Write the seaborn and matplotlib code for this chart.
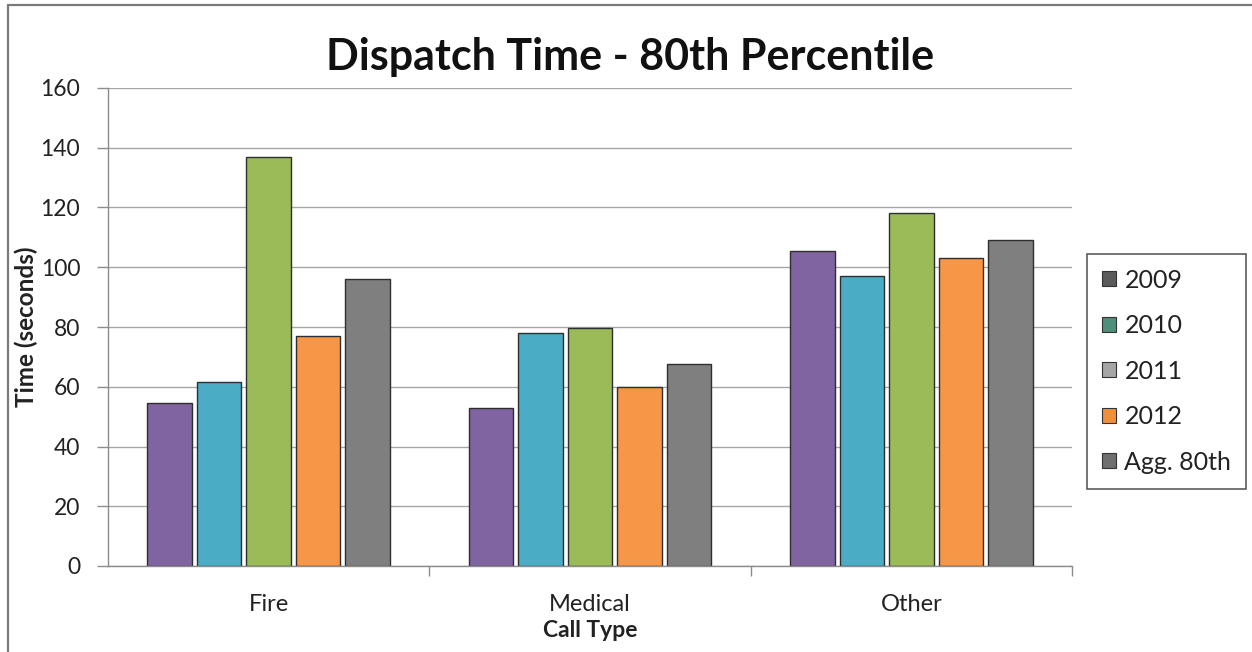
import matplotlib
matplotlib.use("Agg")
import matplotlib.pyplot as plt
from matplotlib.patches import Patch
from matplotlib.lines import Line2D
import seaborn as sns
import pandas as pd

# Chart data
call_types = ["Fire", "Medical", "Other"]
years = ["2009", "2010", "2011", "2012", "Agg. 80th"]
values_2009 = [54.5, 53, 105.5]
values_2010 = [61.5, 78, 97]
values_2011 = [137, 79.5, 118]
values_2012 = [77, 60, 103]
values_agg = [96, 67.5, 109]
y_ticks = [0, 20, 40, 60, 80, 100, 120, 140, 160]

bar_colors = ["#8064a2", "#4bacc6", "#9bbb59", "#f79646", "#7f7f7f"]
legend_colors = ["#5a5a5a", "#4e8f7c", "#a5a5a5", "#f0903a", "#6f6f6f"]

series = [values_2009, values_2010, values_2011, values_2012, values_agg]
rows = []
for yr, vals in zip(years, series):
    for ct, v in zip(call_types, vals):
        rows.append({"Call Type": ct, "Year": yr, "Time": v})
df = pd.DataFrame(rows)

sns.set_theme(style="white")
plt.rcParams["font.family"] = ["Lato", "DejaVu Sans"]

W, H = 1252, 652
fig = plt.figure(figsize=(W / 100, H / 100), dpi=100)
fig.patch.set_facecolor("white")

# outer chart frame (top and left edges)
frame_kw = dict(transform=fig.transFigure, color="#7a7a7a", linewidth=1.6)
fig.add_artist(Line2D([8 / W, 1.0], [1 - 5 / H, 1 - 5 / H], **frame_kw))
fig.add_artist(Line2D([8 / W, 8 / W], [0.0, 1 - 5 / H], **frame_kw))

ax = fig.add_axes([108 / W, (H - 566) / H, 964 / W, 478 / H])

sns.barplot(data=df, x="Call Type", y="Time", hue="Year", order=call_types,
            hue_order=years, palette=bar_colors, width=0.77, gap=0.1,
            edgecolor="#2e2e2e", linewidth=1.0, saturation=1, legend=False, ax=ax)

ax.set_ylim(0, 160)
ax.set_xlim(-0.5, 2.5)
ax.set_yticks(y_ticks)
ax.yaxis.grid(True, color="#a6a6a6", linewidth=1.0)
ax.set_axisbelow(True)

for s in ["top", "right"]:
    ax.spines[s].set_visible(False)
for s in ["left", "bottom"]:
    ax.spines[s].set_color("#8c8c8c")
    ax.spines[s].set_linewidth(1.0)

ax.tick_params(axis="y", which="both", left=True, length=8, width=1.0,
               color="#8c8c8c", labelsize=16.5, labelcolor="#222222", pad=12)
ax.tick_params(axis="x", which="major", bottom=False, labelsize=17,
               labelcolor="#222222", pad=14)
ax.set_xticks([0.5, 1.5, 2.5], minor=True)
ax.tick_params(axis="x", which="minor", bottom=True, length=7, width=1.0,
               color="#8c8c8c")

ax.set_xlabel("Call Type", fontsize=16.5, fontweight="bold", color="#222222", labelpad=4)
ax.set_ylabel("Time (seconds)", fontsize=17.5, fontweight="bold", color="#222222", labelpad=2)

fig.text(630 / W, 1 - 57 / H, "Dispatch Time - 80th Percentile", ha="center",
         va="center", fontsize=31, fontweight="bold", color="#111111")

handles = [Patch(facecolor=c, edgecolor="#333333", linewidth=0.8, label=l)
           for c, l in zip(legend_colors, years)]
leg = fig.legend(handles=handles, loc="center left",
                 bbox_to_anchor=(1087 / W, 1 - 371 / H), frameon=True,
                 fancybox=False, edgecolor="#333333", fontsize=18,
                 handlelength=0.55, handleheight=0.55, handletextpad=0.35,
                 labelspacing=0.9, borderpad=0.6, borderaxespad=0)
leg.get_frame().set_linewidth(1.2)
for t in leg.get_texts():
    t.set_color("#222222")

fig.savefig("out.png", dpi=100, facecolor="white")
